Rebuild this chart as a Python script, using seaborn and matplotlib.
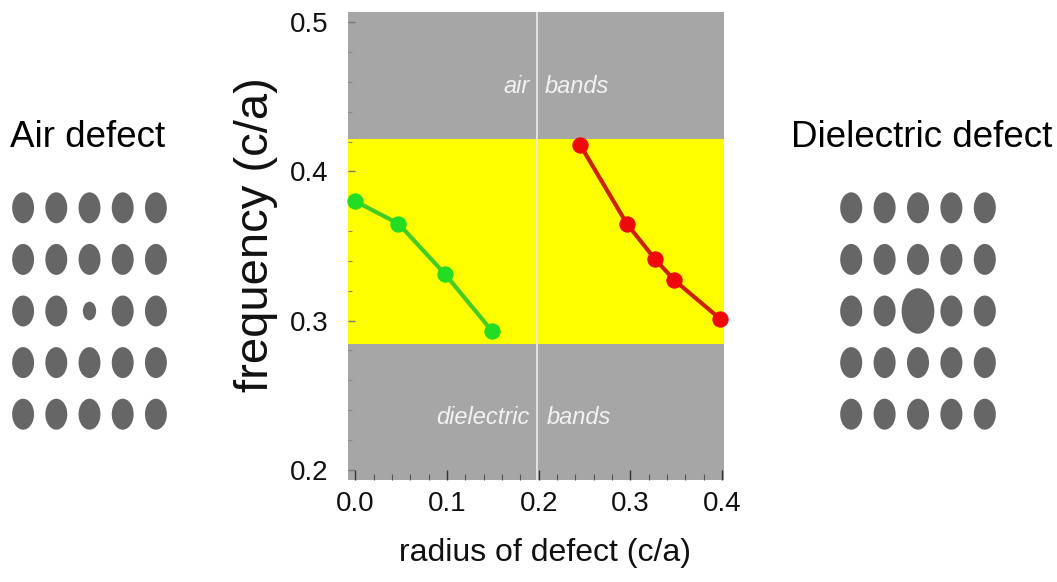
import numpy as np
import pandas as pd
import matplotlib
matplotlib.use("Agg")
import matplotlib.pyplot as plt
from matplotlib.patches import Ellipse
from matplotlib.ticker import MultipleLocator
import seaborn as sns

# ---- data ----
air_radius = [0.0, 0.047, 0.098, 0.149]
air_freq = [0.380, 0.365, 0.331, 0.293]
diel_radius = [0.245, 0.296, 0.327, 0.348, 0.398]
diel_freq = [0.418, 0.365, 0.341, 0.327, 0.301]
gap_low, gap_high = 0.284, 0.422
divider_x = 0.198
x_ticks = [0.0, 0.1, 0.2, 0.3, 0.4]
y_ticks = [0.2, 0.3, 0.4, 0.5]
grid_cols = [0, 1, 2, 3, 4]
grid_rows = [0, 1, 2, 3, 4]
rod_w, rod_h = 0.66, 0.60          # ordinary rod (in lattice units)
air_defect_w, air_defect_h = 0.40, 0.36
diel_defect_w, diel_defect_h = 0.98, 0.88

sns.set_theme(style="white")
plt.rcParams['font.family'] = ['Liberation Sans', 'DejaVu Sans']

fig = plt.figure(figsize=(10.57, 5.82), dpi=100)
fig.patch.set_facecolor("white")

W, H = 1057, 582
def ax_px(x0, y0, x1, y1):
    return fig.add_axes([x0 / W, 1 - y1 / H, (x1 - x0) / W, (y1 - y0) / H])

ax = ax_px(348, 12, 724, 480)
ax.set_facecolor("#a6a6a6")
ax.set_xlim(-0.008, 0.402)
ax.set_ylim(0.193, 0.507)
ax.axhspan(gap_low, gap_high, xmin=0.0, xmax=1.0, color="#ffff00", zorder=0.5, lw=0)
ax.axvline(divider_x, color="#e8e8e8", lw=1.3, zorder=1)

df_air = pd.DataFrame({"r": air_radius, "f": air_freq})
df_diel = pd.DataFrame({"r": diel_radius, "f": diel_freq})
sns.lineplot(data=df_air, x="r", y="f", ax=ax, color="#44cc22", lw=3,
             marker="o", markersize=11, markerfacecolor="#22dd22",
             markeredgecolor="#22dd22", zorder=3, clip_on=False)
sns.lineplot(data=df_diel, x="r", y="f", ax=ax, color="#cc2200", lw=3,
             marker="o", markersize=11, markerfacecolor="#ee0a0a",
             markeredgecolor="#ee0a0a", zorder=3, clip_on=False)

band_kw = dict(va="center", color="#f2f2f2", fontsize=17, style="italic", fontweight="light")
ax.text(divider_x - 0.008, 0.457, "air", ha="right", **band_kw)
ax.text(divider_x + 0.009, 0.457, "bands", ha="left", **band_kw)
ax.text(divider_x - 0.008, 0.235, "dielectric", ha="right", **band_kw)
ax.text(divider_x + 0.011, 0.235, "bands", ha="left", **band_kw)

ax.set_xticks(x_ticks)
ax.set_yticks(y_ticks)
ax.set_xticklabels([f"{v:.1f}" for v in x_ticks], fontsize=20, color="#111111")
ax.set_yticklabels([f"{v:.1f}" for v in y_ticks], fontsize=20, color="#111111")
ax.xaxis.set_minor_locator(MultipleLocator(0.02))
ax.yaxis.set_minor_locator(MultipleLocator(0.02))
ax.tick_params(axis="x", which="major", direction="in", length=7, width=1,
               color="#333333", bottom=True, pad=8)
ax.tick_params(axis="y", which="major", direction="in", length=5, width=1,
               color="#777777", left=True, pad=14)
ax.tick_params(axis="x", which="minor", direction="in", length=4, width=0.8,
               color="#555555", bottom=True)
ax.tick_params(axis="y", which="minor", direction="in", length=3, width=0.8,
               color="#888888", left=True)
ax.set_xlabel("radius of defect (c/a)", fontsize=23, color="#111111")
ax.set_ylabel("frequency (c/a)", fontsize=34, color="#111111")
ax.xaxis.set_label_coords((545 - 348) / 376, -(538 - 480) / 468)
ax.yaxis.set_label_coords(-(348 - 278) / 376, (480 - 235) / 468)
for s in ax.spines.values():
    s.set_visible(False)

# ---- side panels: photonic crystal lattices ----
def lattice(axl, defect_w, defect_h):
    axl.set_xlim(-0.5, 4.5)
    axl.set_ylim(4.5, -0.5)
    axl.axis("off")
    for r in grid_rows:
        for c in grid_cols:
            if r == 2 and c == 2:
                w, h = defect_w, defect_h
            else:
                w, h = rod_w, rod_h
            axl.add_patch(Ellipse((c, r), w, h, color="#666666", lw=0))

axL = ax_px(6.5, 182, 172.5, 440)
lattice(axL, air_defect_w, air_defect_h)
axR = ax_px(834.5, 182, 1001.5, 440)
lattice(axR, diel_defect_w, diel_defect_h)

fig.text(10 / W, 1 - 137 / H, "Air defect", fontsize=26.5, ha="left", va="center", color="#000000")
fig.text(1052 / W, 1 - 137 / H, "Dielectric defect", fontsize=26.5, ha="right", va="center", color="#000000")

fig.savefig("out.png", dpi=100)
